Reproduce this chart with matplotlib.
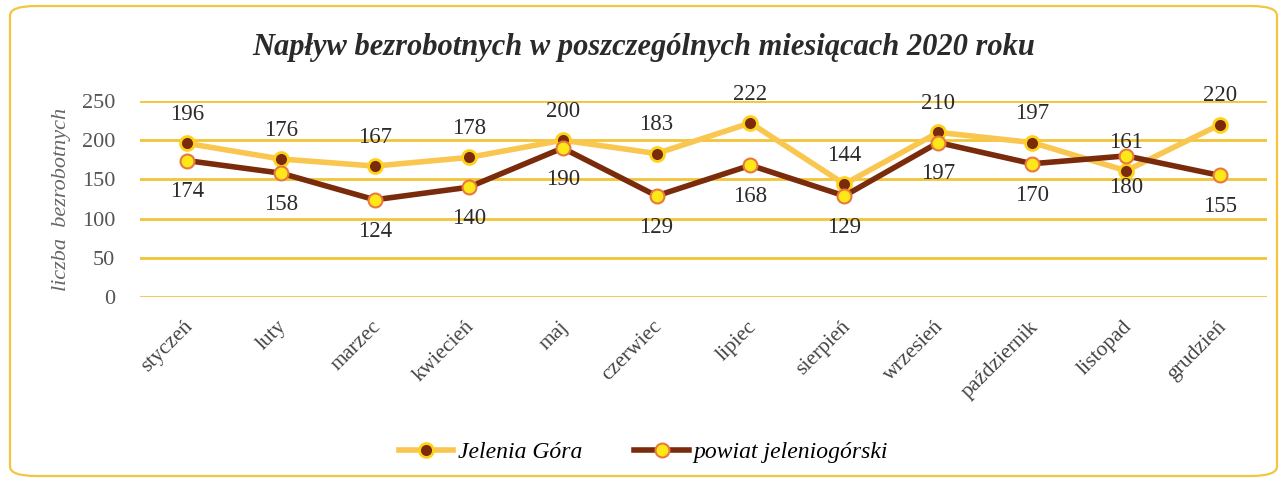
import numpy as np
import matplotlib.pyplot as plt
import matplotlib.transforms as mtransforms
from matplotlib.patches import FancyBboxPatch

months = ["styczeń", "luty", "marzec", "kwiecień", "maj", "czerwiec",
          "lipiec", "sierpień", "wrzesień", "październik", "listopad", "grudzień"]
jelenia_gora = [196, 176, 167, 178, 200, 183, 222, 144, 210, 197, 161, 220]
powiat = [174, 158, 124, 140, 190, 129, 168, 129, 197, 170, 180, 155]
y_ticks = [0, 50, 100, 150, 200, 250]

SERIF = ["Liberation Serif", "DejaVu Serif"]
GRID = "#F2C437"
LIGHT = "#F9C650"
DARK = "#7A2B0C"

plt.rcParams["font.family"] = SERIF

fig = plt.figure(figsize=(12.87, 4.84), dpi=100)
ax = fig.add_axes([140 / 1287, 1 - 297 / 484, 1127 / 1287, 196 / 484])

# outer rounded frame
frame = FancyBboxPatch((10 / 1287, 8 / 484), 1267 / 1287, 470 / 484,
                       boxstyle="round,pad=0,rounding_size=0.02",
                       transform=fig.transFigure, fill=False,
                       edgecolor="#F3C63F", linewidth=1.6)
fig.patches.append(frame)

x = np.arange(len(months))
ax.plot(x, jelenia_gora, color=LIGHT, linewidth=4, marker="o", markersize=10,
        markerfacecolor=DARK, markeredgecolor="#FFD21A", markeredgewidth=2,
        label="Jelenia Góra", zorder=3)
ax.plot(x, powiat, color=DARK, linewidth=4, marker="o", markersize=10,
        markerfacecolor="#FFE818", markeredgecolor="#E9783E", markeredgewidth=1.5,
        label="powiat jeleniogórski", zorder=4)

for i in x:
    ax.annotate(str(jelenia_gora[i]), (i, jelenia_gora[i]), xytext=(0, 13),
                textcoords="offset points", ha="center", va="bottom",
                fontsize=16.5, color="#2b2b2b")
    ax.annotate(str(powiat[i]), (i, powiat[i]), xytext=(0, -15),
                textcoords="offset points", ha="center", va="top",
                fontsize=16.5, color="#2b2b2b")

ax.set_xlim(-0.5, len(months) - 0.5)
ax.set_ylim(0, 250)
ax.set_yticks(y_ticks)
ax.set_xticks(x)
ax.set_xticklabels([])

# month labels: rotated 45 deg, ending at each category
base = mtransforms.blended_transform_factory(ax.transData, ax.transAxes)
shift = mtransforms.ScaledTranslation(3 / 100, -27 / 100, fig.dpi_scale_trans)
for i, m in zip(x, months):
    ax.text(i, 0, m, transform=base + shift, rotation=45, ha="right",
            va="center", rotation_mode="anchor", fontsize=15.5, color="#444444")

ax.tick_params(axis="y", labelsize=16, labelcolor="#555555", length=0, pad=18)
ax.tick_params(axis="x", length=0)
ax.grid(axis="y", color=GRID, linewidth=2)
ax.set_axisbelow(True)
for s in ax.spines.values():
    s.set_visible(False)

ax.set_ylabel("liczba  bezrobotnych", fontsize=16, style="italic",
              color="#666666", labelpad=8)
fig.text(0.5, 1 - 48 / 484, "Napływ bezrobotnych w poszczególnych miesiącach 2020 roku",
         fontsize=22, style="italic", fontweight="bold", color="#2a2a2a",
         ha="center", va="center")

fig.legend(loc="center", bbox_to_anchor=(0.5, 1 - 452 / 484), ncol=2,
           frameon=False, handlelength=2.3, handletextpad=0.2,
           columnspacing=2.2, prop={"family": SERIF, "style": "italic", "size": 17})

fig.savefig("out.png", dpi=100)
